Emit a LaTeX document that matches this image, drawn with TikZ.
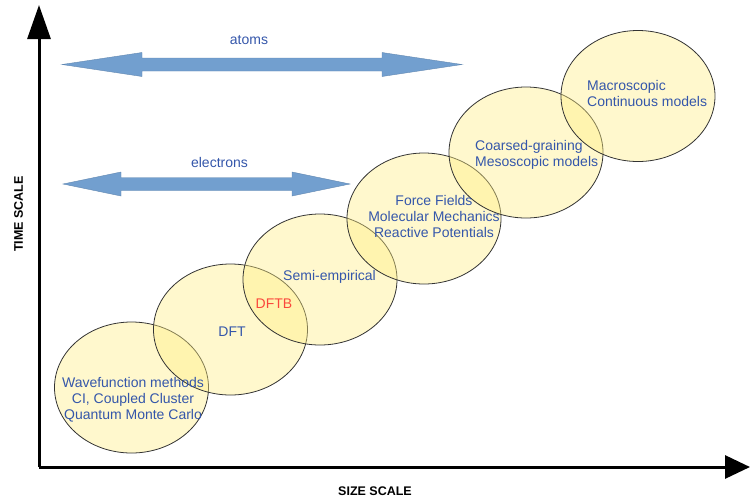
\documentclass[tikz,border=0pt]{standalone}
\usepackage{fontspec}
\setmainfont{Liberation Sans}
\usepackage{tikz}
\usetikzlibrary{arrows.meta}
\usetikzlibrary{shapes}
\definecolor{textblue}{RGB}{52,86,170}
\definecolor{dftbred}{RGB}{250,72,60}
\definecolor{arrowblue}{RGB}{114,159,207}
\definecolor{paleyellow}{RGB}{255,238,130}
\tikzstyle{scalebubble} = [ellipse, draw=black!80, line width=0.8pt, fill=paleyellow, fill opacity=0.4,
minimum width=154pt, minimum height=131pt, inner sep=0pt]
\tikzstyle{method} = [text=textblue, inner sep=0pt, font=\fontsize{14}{16}\selectfont]
\tikzstyle{axisline} = [draw, line width=3pt]
\tikzstyle{axislabel} = [inner sep=0pt, font=\fontsize{12.5}{14}\selectfont\bfseries]
\tikzstyle{rangearrow} = [fill=arrowblue, draw=arrowblue!85!black, line width=0.4pt]

\begin{document}
\begin{tikzpicture}[x=1pt,y=-1pt]
\useasboundingbox (0,0) rectangle (750,499);
% Place nodes
	\node [scalebubble] (wf)    at (131.5,387.5) {};
	\node [scalebubble] (dft)   at (230.5,329.5) {};
	\node [scalebubble] (semi)  at (320,279.5)   {};
	\node [scalebubble] (ff)    at (424,218.5)   {};
	\node [scalebubble] (cg)    at (526,152.5)   {};
	\node [scalebubble] (macro) at (638,96)      {};

	\node [method, align=center] (wftext) at (133,400) {Wavefunction methods\\CI, Coupled Cluster\\Quantum Monte Carlo};
	\node [method] (dfttext) at (232,332) {DFT};
	\node [method, text=dftbred] (dftbtext) at (274,304) {DFTB};
	\node [method] (semitext) at (329.5,277) {Semi-empirical};
	\node [method, align=center] (fftext) at (434,216) {Force Fields\\Molecular Mechanics\\Reactive Potentials};
	\node [method, align=left, anchor=west] (cgtext) at (475,155) {Coarsed-graining\\Mesoscopic models};
	\node [method, align=left, anchor=west] (macrotext) at (587,93) {Macroscopic\\Continuous models};

	\node [method] (atoms) at (249,40) {atoms};
	\node [method] (electrons) at (219.5,162) {electrons};

	\node [axislabel, rotate=90] (time) at (18.5,214) {TIME SCALE};
	\node [axislabel] (size) at (375,491) {SIZE SCALE};

% Draw ranges
	\path [rangearrow] (62,64.5) -- (142,52.5) -- (142,58) -- (382,58) -- (382,52.5) -- (462,64.5)
		-- (382,76.5) -- (382,71) -- (142,71) -- (142,76.5) -- cycle;
	\path [rangearrow] (63,184) -- (121,172) -- (121,177.5) -- (292,177.5) -- (292,172) -- (350,184)
		-- (292,196) -- (292,190.5) -- (121,190.5) -- (121,196) -- cycle;

% Draw axes
	\coordinate (origin) at (39,467);
	\coordinate (ytip) at (39,5);
	\coordinate (xtip) at (750,467);
	\path [axisline, -{Triangle[length=34pt,width=23pt]}] (origin) -- (ytip);
	\path [axisline, -{Triangle[length=25pt,width=23pt]}] (origin) -- (xtip);

\end{tikzpicture}
\end{document}
